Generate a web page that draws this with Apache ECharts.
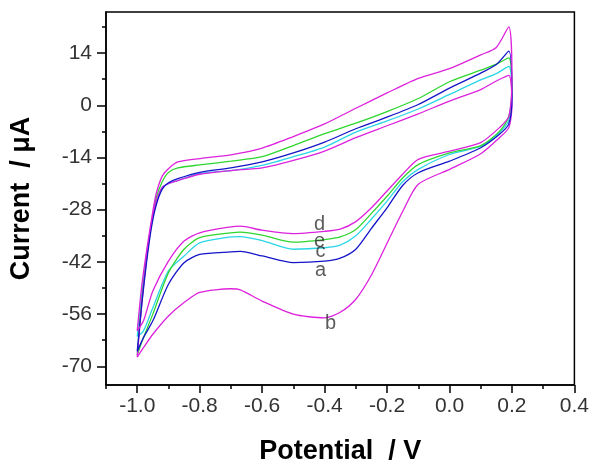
<!DOCTYPE html>
<html>
<head>
<meta charset="utf-8">
<script src="https://cdn.jsdelivr.net/npm/echarts@6/dist/echarts.min.js"></script>
<style>
  html, body { margin: 0; padding: 0; background: #fff; }
  #chart { width: 592px; height: 470px; }
</style>
</head>
<body>
<div id="chart"></div>
<script>
// potential (V) and current (uA), each loop: anodic branch then cathodic branch
const upV = [-1.0, -0.985, -0.97, -0.955, -0.94, -0.92, -0.9, -0.87, -0.8, -0.7, -0.6, -0.5, -0.4, -0.3, -0.2, -0.1, 0.0, 0.1, 0.15, 0.19];
const downV = [0.2, 0.19, 0.16, 0.1, 0.0, -0.1, -0.15, -0.2, -0.25, -0.3, -0.35, -0.4, -0.5, -0.6, -0.67, -0.7, -0.8, -0.85, -0.9, -0.95, -0.98, -1.0];

const upA = [-66, -53, -42, -33, -27, -22.5, -20.8, -19.7, -18, -16.8, -15.2, -12.8, -9.9, -6.3, -3.2, 0.2, 4.6, 8.6, 10.9, 14.5];
const downA = [2, -5, -7.8, -11.4, -15, -18.1, -21.5, -27.5, -33, -38.6, -41, -41.8, -42.2, -40.4, -39.2, -39.3, -40, -42.2, -48, -57.8, -62.3, -66];

const upB = [-67.5, -53, -41, -32, -26, -22, -21, -20.2, -18.5, -17.5, -16.8, -14.8, -12.3, -8.7, -5.5, -2.3, 1.1, 4.2, 6.5, 8];
const downB = [0, -6, -8.7, -13, -17.2, -21.2, -28.5, -37, -45.5, -52, -55.5, -57, -56, -52.5, -49.5, -49.2, -50.2, -52.9, -56.5, -61.4, -65, -67.5];

const upC = [-62, -50, -40, -32, -26, -22, -21, -20.2, -18.3, -17.5, -16.1, -13.8, -11.2, -7.2, -4.2, -1, 2.9, 6.8, 8.5, 10.4];
const downC = [3, -4, -7.3, -11, -13.2, -17.2, -20.5, -25.7, -30.5, -35, -37.5, -38.2, -38.6, -36.3, -35.2, -35.3, -36.9, -40.4, -44.4, -54.3, -60.5, -62];

const upD = [-60.5, -48, -39, -31, -24, -19, -17, -15.2, -14.3, -13.3, -11.5, -8.4, -5, -0.8, 3.3, 7.2, 9.8, 13.5, 15.5, 21];
const downD = [8, -3, -6, -10, -12.3, -14.5, -18.5, -23, -27.5, -31.2, -33.2, -33.8, -34.4, -33.5, -32.4, -32.6, -34.2, -36.4, -41.8, -49.8, -57.8, -60.5];

const upE = [-67, -52, -41, -32, -25, -20.5, -18, -16.8, -16, -15, -13.8, -10.8, -7.6, -4.8, -1.7, 1.8, 6.3, 9.4, 11, 12.7];
const downE = [5, -3, -7, -10.8, -12.8, -15.9, -19.5, -24.4, -29, -33.3, -35.3, -36, -36.7, -34.8, -34, -34.2, -35.5, -38.6, -44.9, -56, -62.3, -67];

// curve letters and where they sit
const labelNames = ['d', 'e', 'c', 'a', 'b'];
const labelV = [-0.416, -0.416, -0.413, -0.413, -0.381];
const labelA = [-31.9, -36.4, -39.1, -44.4, -58.6];

const xLabels = [-1.0, -0.8, -0.6, -0.4, -0.2, 0.0, 0.2, 0.4];
const xMinor = [-1.1, -0.9, -0.7, -0.5, -0.3, -0.1, 0.1, 0.3];
const yLabels = [-70, -56, -42, -28, -14, 0, 14];
const yMinor = [-63, -49, -35, -21, -7, 7, 21];

function loop(up, down) {
  const pts = [];
  upV.forEach((v, i) => pts.push([v, up[i]]));
  downV.forEach((v, i) => pts.push([v, down[i]]));
  return pts;
}

const font = 'Liberation Sans, Arial, sans-serif';
const myChart = echarts.init(document.getElementById('chart'));

function curve(name, color, up, down) {
  return {
    name: name,
    type: 'line',
    data: loop(up, down),
    showSymbol: false,
    smooth: 0.25,
    lineStyle: { color: color, width: 1.3 },
    itemStyle: { color: color },
    z: 3
  };
}

myChart.setOption({
  animation: false,
  grid: {
    left: 100, top: 12, right: 17, bottom: 84,
    show: true, borderColor: '#000', borderWidth: 1.5
  },
  xAxis: [
    {
      type: 'value', min: -1.1, max: 0.4, position: 'bottom',
      name: 'Potential  / V', nameLocation: 'middle', nameGap: 53,
      nameTextStyle: { fontFamily: font, fontSize: 27, fontWeight: 'bold', color: '#000' },
      axisLine: { onZero: false, lineStyle: { color: '#000', width: 1.5 } },
      axisTick: { customValues: xLabels, length: 8, lineStyle: { color: '#000', width: 1.5 } },
      axisLabel: {
        customValues: xLabels, margin: 11, fontFamily: font, fontSize: 21, color: '#333',
        formatter: v => v.toFixed(1)
      },
      splitLine: { show: false }
    },
    {
      type: 'value', min: -1.1, max: 0.4, position: 'bottom',
      axisLine: { show: false, onZero: false },
      axisTick: { customValues: xMinor, length: 4, lineStyle: { color: '#000', width: 1.5 } },
      axisLabel: { show: false },
      splitLine: { show: false }
    }
  ],
  yAxis: [
    {
      type: 'value', min: -75, max: 25, position: 'left',
      name: 'Current  / μA', nameLocation: 'middle', nameGap: 71, nameRotate: 90,
      nameTextStyle: { fontFamily: font, fontSize: 27, fontWeight: 'bold', color: '#000' },
      axisLine: { onZero: false, lineStyle: { color: '#000', width: 1.5 } },
      axisTick: { customValues: yLabels, length: 9, lineStyle: { color: '#000', width: 1.5 } },
      axisLabel: { customValues: yLabels, margin: 14, fontFamily: font, fontSize: 21, color: '#333' },
      splitLine: { show: false }
    },
    {
      type: 'value', min: -75, max: 25, position: 'left',
      axisLine: { show: false, onZero: false },
      axisTick: { customValues: yMinor, length: 4, lineStyle: { color: '#000', width: 1.5 } },
      axisLabel: { show: false },
      splitLine: { show: false }
    }
  ],
  series: [
    curve('c', '#2ad6e6', upC, downC),
    curve('e', '#2fd62f', upE, downE),
    curve('b', '#dd22dd', upB, downB),
    curve('a', '#1414c8', upA, downA),
    curve('d', '#dd22dd', upD, downD),
    {
      type: 'scatter',
      symbolSize: 1,
      itemStyle: { color: 'rgba(0,0,0,0)' },
      data: labelNames.map((n, i) => ({ name: n, value: [labelV[i], labelA[i]] })),
      label: {
        show: true, position: 'inside', formatter: p => p.name,
        fontFamily: font, fontSize: 20, color: '#333'
      },
      z: 5
    }
  ]
});
</script>
</body>
</html>
